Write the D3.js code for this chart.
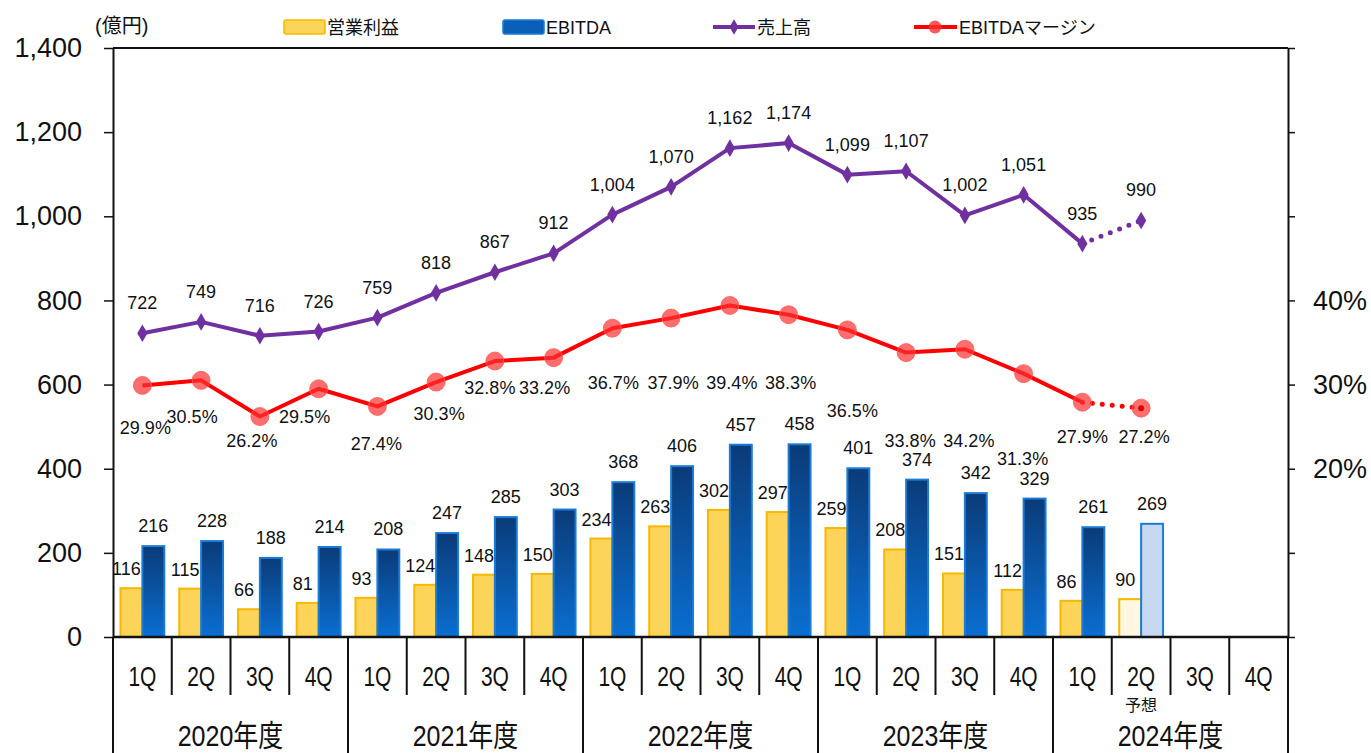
<!DOCTYPE html>
<html>
<head>
<meta charset="utf-8">
<script src="https://cdn.jsdelivr.net/npm/d3@7/dist/d3.min.js"></script>
<style>
  body { margin: 0; background: #fff; }
  svg { display: block; }
  text { font-family: "Liberation Sans", Arial, "Noto Sans CJK JP", sans-serif; fill: #111; }
</style>
</head>
<body>
<svg id="chart" width="1371" height="753"></svg>
<script>
// data
const years = ['2020年度', '2021年度', '2022年度', '2023年度', '2024年度'];
const quarters = ['1Q', '2Q', '3Q', '4Q'];
const opProfit = [116, 115, 66, 81, 93, 124, 148, 150, 234, 263, 302, 297, 259, 208, 151, 112, 86, 90];
const ebitda = [216, 228, 188, 214, 208, 247, 285, 303, 368, 406, 457, 458, 401, 374, 342, 329, 261, 269];
const sales = [722, 749, 716, 726, 759, 818, 867, 912, 1004, 1070, 1162, 1174, 1099, 1107, 1002, 1051, 935, 990];
const margin = [29.9, 30.5, 26.2, 29.5, 27.4, 30.3, 32.8, 33.2, 36.7, 37.9, 39.4, 38.3, 36.5, 33.8, 34.2, 31.3, 27.9, 27.2];
const leftTicks = [0, 200, 400, 600, 800, 1000, 1200, 1400];
const rightTicks = [0, 10, 20, 30, 40, 50, 60, 70];
const rightLabelled = [20, 30, 40];
const forecastIdx = 17; // 2024 2Q is the forecast

// label nudges for the margin labels (px), as placed in the original
const marginLabelDx = [3, -9, -8, -14, -1, 3, -5, -9, 1, 2, 2, 2, 5, 4, 4, -1, 0, 3];
const marginLabelDy = [43, 37, 24, 28, 38, 32, 27, 30, 55, 65, 78, 68, 81, 88, 92, 85, 35, 29];

const slots = years.flatMap(y => quarters.map(q => y + '|' + q));
const rows = opProfit.map((v, i) => ({
    key: slots[i], op: v, ebitda: ebitda[i], sales: sales[i], margin: margin[i], i
}));

const plotLeft = 113, plotRight = 1288, plotTop = 48, plotBottom = 637;
const svg = d3.select('#chart');

// Scales
const x = d3.scaleBand().domain(slots).range([plotLeft, plotRight]).padding(0);
const xInner = d3.scaleBand().domain(['op', 'ebitda']).range([0, x.bandwidth()])
    .paddingInner(0).paddingOuter(0.34);
const y = d3.scaleLinear().domain([0, 1400]).range([plotBottom, plotTop]);
const yR = d3.scaleLinear().domain([0, 70]).range([plotBottom, plotTop]);

// gradient for EBITDA bars
const defs = svg.append('defs');
const grad = defs.append('linearGradient').attr('id', 'blueGrad')
    .attr('x1', 0).attr('y1', 0).attr('x2', 0).attr('y2', 1);
grad.append('stop').attr('offset', '0%').attr('stop-color', '#0b3b78');
grad.append('stop').attr('offset', '100%').attr('stop-color', '#0a6fd2');

// Bars
const bars = svg.append('g');
bars.selectAll('.op')
    .data(rows)
    .enter().append('rect')
    .attr('x', d => x(d.key) + xInner('op'))
    .attr('y', d => y(d.op))
    .attr('width', xInner.bandwidth())
    .attr('height', d => y(0) - y(d.op))
    .attr('fill', d => d.i === forecastIdx ? '#fff7df' : '#fdd45a')
    .attr('stroke', '#f7b900')
    .attr('stroke-width', 2);

bars.selectAll('.eb')
    .data(rows)
    .enter().append('rect')
    .attr('x', d => x(d.key) + xInner('ebitda'))
    .attr('y', d => y(d.ebitda))
    .attr('width', xInner.bandwidth())
    .attr('height', d => y(0) - y(d.ebitda))
    .attr('fill', d => d.i === forecastIdx ? '#c5d8f0' : 'url(#blueGrad)')
    .attr('stroke', '#1b7bd6')
    .attr('stroke-width', 2);

// Bar labels
svg.append('g').selectAll('text')
    .data(rows)
    .enter().append('text')
    .attr('x', d => x(d.key) + xInner('op') + xInner.bandwidth() / 2 - 5)
    .attr('y', d => y(d.op) - 13)
    .attr('text-anchor', 'middle')
    .attr('font-size', 18)
    .text(d => d.op);

svg.append('g').selectAll('text')
    .data(rows)
    .enter().append('text')
    .attr('x', d => x(d.key) + xInner('ebitda') + xInner.bandwidth() / 2)
    .attr('y', d => y(d.ebitda) - 14)
    .attr('text-anchor', 'middle')
    .attr('font-size', 18)
    .text(d => d.ebitda);

// Frame + axes
svg.append('line').attr('x1', plotLeft).attr('x2', plotRight).attr('y1', plotTop).attr('y2', plotTop)
    .attr('stroke', '#111').attr('stroke-width', 2);

const yAxis = svg.append('g')
    .attr('transform', `translate(${plotLeft},0)`)
    .call(d3.axisLeft(y).tickValues(leftTicks).tickSize(9).tickSizeOuter(0).tickPadding(22)
        .tickFormat(d3.format(',')));
yAxis.select('.domain').attr('stroke', '#111').attr('stroke-width', 2);
yAxis.selectAll('.tick line').attr('stroke', '#111').attr('stroke-width', 1.5);
yAxis.selectAll('.tick text').attr('font-size', 27).attr('fill', '#111')
    .style('font-family', '"Liberation Sans", Arial, sans-serif');

const yAxisR = svg.append('g')
    .attr('transform', `translate(${plotRight},0)`)
    .call(d3.axisRight(yR).tickValues(rightTicks).tickSize(7).tickSizeOuter(0).tickPadding(18)
        .tickFormat(d => rightLabelled.includes(d) ? d + '%' : ''));
yAxisR.select('.domain').attr('stroke', '#111').attr('stroke-width', 2);
yAxisR.selectAll('.tick line').attr('stroke', '#111').attr('stroke-width', 1.5);
yAxisR.selectAll('.tick text').attr('font-size', 27).attr('fill', '#111')
    .style('font-family', '"Liberation Sans", Arial, sans-serif');

// x axis baseline
svg.append('line').attr('x1', plotLeft).attr('x2', plotRight).attr('y1', plotBottom).attr('y2', plotBottom)
    .attr('stroke', '#111').attr('stroke-width', 2.5);

// quarter separators and year separators
const cat = svg.append('g');
cat.selectAll('.qsep')
    .data(slots)
    .enter().append('line')
    .attr('x1', d => x(d)).attr('x2', d => x(d))
    .attr('y1', plotBottom).attr('y2', (d, i) => i % 4 === 0 ? 753 : 695)
    .attr('stroke', '#111').attr('stroke-width', 2);
cat.append('line').attr('x1', plotRight).attr('x2', plotRight).attr('y1', plotBottom).attr('y2', 753)
    .attr('stroke', '#111').attr('stroke-width', 2);

cat.selectAll('.qlab')
    .data(slots)
    .enter().append('text')
    .attr('transform', d => `translate(${x(d) + x.bandwidth() / 2},${plotBottom + 49}) scale(1,1.3)`)
    .attr('text-anchor', 'middle')
    .attr('font-size', 21)
    .text(d => d.split('|')[1]);

cat.selectAll('.ylab')
    .data(years)
    .enter().append('text')
    .attr('transform', d => {
        const a = x(d + '|1Q'), b = x(d + '|4Q') + x.bandwidth();
        return `translate(${(a + b) / 2},${plotBottom + 109}) scale(1,1.2)`;
    })
    .attr('text-anchor', 'middle')
    .attr('font-size', 25)
    .text(d => d);

cat.append('text')
    .attr('x', x(slots[forecastIdx]) + x.bandwidth() / 2)
    .attr('y', 711)
    .attr('text-anchor', 'middle')
    .attr('font-size', 16)
    .text('予想');

// Sales line
const salesLine = d3.line().x(d => x(d.key) + x.bandwidth() / 2).y(d => y(d.sales));
svg.append('path')
    .datum(rows.slice(0, forecastIdx))
    .attr('d', salesLine)
    .attr('fill', 'none').attr('stroke', '#7030a0').attr('stroke-width', 4)
    .attr('stroke-linejoin', 'round');
svg.append('path')
    .datum(rows.slice(forecastIdx - 1))
    .attr('d', salesLine)
    .attr('fill', 'none').attr('stroke', '#7030a0').attr('stroke-width', 5)
    .attr('stroke-dasharray', '0,10').attr('stroke-linecap', 'round');
svg.append('g').selectAll('path')
    .data(rows)
    .enter().append('path')
    .attr('transform', d => `translate(${x(d.key) + x.bandwidth() / 2},${y(d.sales)})`)
    .attr('d', d3.symbol(d3.symbolDiamond, 90))
    .attr('fill', '#7030a0');
svg.append('g').selectAll('text')
    .data(rows)
    .enter().append('text')
    .attr('x', d => x(d.key) + x.bandwidth() / 2)
    .attr('y', d => y(d.sales) - 24)
    .attr('text-anchor', 'middle')
    .attr('font-size', 18)
    .text(d => d3.format(',')(d.sales));

// EBITDA margin line
const marginLine = d3.line().x(d => x(d.key) + x.bandwidth() / 2).y(d => yR(d.margin));
svg.append('path')
    .datum(rows.slice(0, forecastIdx))
    .attr('d', marginLine)
    .attr('fill', 'none').attr('stroke', '#ff0000').attr('stroke-width', 4)
    .attr('stroke-linejoin', 'round');
svg.append('path')
    .datum(rows.slice(forecastIdx - 1))
    .attr('d', marginLine)
    .attr('fill', 'none').attr('stroke', '#ff0000').attr('stroke-width', 5)
    .attr('stroke-dasharray', '0,10').attr('stroke-linecap', 'round');
svg.append('g').selectAll('circle')
    .data(rows)
    .enter().append('circle')
    .attr('cx', d => x(d.key) + x.bandwidth() / 2)
    .attr('cy', d => yR(d.margin))
    .attr('r', 9)
    .attr('fill', '#ff3030').attr('fill-opacity', 0.7)
    .attr('stroke', '#ff5a5a').attr('stroke-opacity', 0.8);
svg.append('circle')
    .attr('cx', x(slots[forecastIdx]) + x.bandwidth() / 2)
    .attr('cy', yR(margin[forecastIdx]))
    .attr('r', 3).attr('fill', '#e00000');
svg.append('g').selectAll('text')
    .data(rows)
    .enter().append('text')
    .attr('x', d => x(d.key) + x.bandwidth() / 2 + marginLabelDx[d.i])
    .attr('y', d => yR(d.margin) + marginLabelDy[d.i] + 6)
    .attr('text-anchor', 'middle')
    .attr('font-size', 18)
    .text(d => d.margin.toFixed(1) + '%');

// unit + legend
svg.append('text').attr('x', 95).attr('y', 33).attr('font-size', 20).text('(億円)');

const legend = svg.append('g');
legend.append('rect').attr('x', 284).attr('y', 20).attr('width', 41).attr('height', 14)
    .attr('rx', 2).attr('fill', '#fdd45a').attr('stroke', '#f7b900').attr('stroke-width', 1.5);
legend.append('text').attr('x', 327).attr('y', 34).attr('font-size', 18).text('営業利益');

legend.append('rect').attr('x', 503).attr('y', 20).attr('width', 41).attr('height', 14)
    .attr('rx', 2).attr('fill', '#0a5fb8').attr('stroke', '#1b7bd6').attr('stroke-width', 1.5);
legend.append('text').attr('x', 546).attr('y', 34).attr('font-size', 18).text('EBITDA');

legend.append('line').attr('x1', 713).attr('x2', 755).attr('y1', 27).attr('y2', 27)
    .attr('stroke', '#7030a0').attr('stroke-width', 4);
legend.append('path').attr('transform', 'translate(734,27)')
    .attr('d', d3.symbol(d3.symbolDiamond, 70)).attr('fill', '#7030a0');
legend.append('text').attr('x', 757).attr('y', 34).attr('font-size', 18).text('売上高');

legend.append('line').attr('x1', 914).attr('x2', 957).attr('y1', 27).attr('y2', 27)
    .attr('stroke', '#ff0000').attr('stroke-width', 4);
legend.append('circle').attr('cx', 935).attr('cy', 27).attr('r', 6.5)
    .attr('fill', '#ff3030').attr('fill-opacity', 0.8);
legend.append('text').attr('x', 959).attr('y', 34).attr('font-size', 18).text('EBITDAマージン');
</script>
</body>
</html>
